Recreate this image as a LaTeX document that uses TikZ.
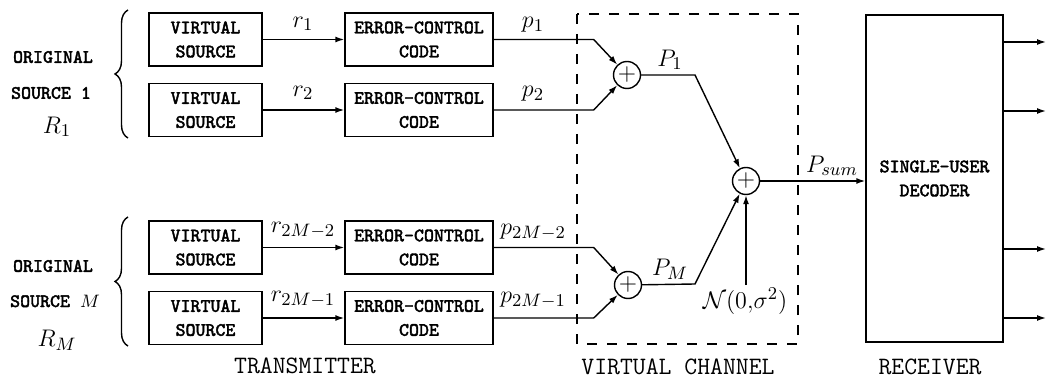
\documentclass[tikz,border=0pt]{standalone}
\usepackage{fontspec}
\newfontfamily\bftt{Latin Modern Mono}[FakeBold=2]
\usetikzlibrary{arrows.meta,decorations.pathreplacing}
\begin{document}
\begin{tikzpicture}[x=0.5pt, y=-0.5pt, line width=0.7pt, >={Latex[length=4.5pt,width=3pt]},
		blk/.style={draw, align=center, inner sep=0pt, font=\bftt\fontsize{9.5}{12}\selectfont},
		vsrc/.style={blk, minimum width=56.5pt, minimum height=26.5pt},
		ecc/.style={blk, minimum width=74pt, minimum height=26.5pt},
		adder/.style={circle, draw, inner sep=0pt, minimum size=13.5pt, font=\large},
		lab/.style={inner sep=1pt, font=\fontsize{12.5}{14}\selectfont},
		side/.style={align=center, inner sep=1pt, font=\bftt\fontsize{9.5}{12}\selectfont},
		part/.style={inner sep=1pt, font=\ttfamily\fontsize{12.5}{14}\selectfont}]
			\useasboundingbox (0,0) rectangle (1047,389);

			% transmitter
			\node[vsrc] (vs1) at (205.5, 39.5) {VIRTUAL\\SOURCE};
			\node[vsrc] (vs2) at (205.5, 110) {VIRTUAL\\SOURCE};
			\node[vsrc] (vs3) at (205.5, 247.5) {VIRTUAL\\SOURCE};
			\node[vsrc] (vs4) at (205.5, 318) {VIRTUAL\\SOURCE};
			\node[ecc] (ec1) at (419, 39.5) {ERROR-CONTROL\\CODE};
			\node[ecc] (ec2) at (419, 110) {ERROR-CONTROL\\CODE};
			\node[ecc] (ec3) at (419, 247.5) {ERROR-CONTROL\\CODE};
			\node[ecc] (ec4) at (419, 318) {ERROR-CONTROL\\CODE};

			\draw[->] (vs1) -- (ec1);
			\draw[->] (vs2) -- (ec2);
			\draw[->] (vs3) -- (ec3);
			\draw[->] (vs4) -- (ec4);
			\node[lab] (r1) at (303, 24) {$r_1$};
			\node[lab] (r2) at (303, 93) {$r_2$};
			\node[lab] (r3) at (303, 230) {$r_{2M-2}$};
			\node[lab] (r4) at (303, 299) {$r_{2M-1}$};

			\node[side] (org1) at (53, 57) {ORIGINAL};
			\node[side] (src1) at (51, 93) {SOURCE 1};
			\node[lab, font=\fontsize{13}{15}\selectfont] (rate1) at (57, 127) {$R_1$};
			\node[side] (org2) at (53, 266) {ORIGINAL};
			\node[side] (src2) at (55, 301) {SOURCE $M$};
			\node[lab, font=\fontsize{13}{15}\selectfont] (rate2) at (57, 340) {$R_M$};
			\draw[decorate, decoration={brace, amplitude=6.5pt}] (128, 138) -- (128, 10);
			\draw[decorate, decoration={brace, amplitude=6.5pt}] (128, 346) -- (128, 217);

			% virtual channel
			\draw[dash pattern=on 5pt off 5pt] (577, 14) rectangle (798, 344);
			\node[adder] (add1) at (627, 75) {$+$};
			\node[adder] (add2) at (628, 285) {$+$};
			\node[adder] (sum) at (746, 181) {$+$};

			\draw[->] (ec1.east) -- ++(100, 0) -- (add1);
			\draw[->] (ec2.east) -- ++(100, 0) -- (add1);
			\draw[->] (ec3.east) -- ++(100, 0) -- (add2);
			\draw[->] (ec4.east) -- ++(100, 0) -- (add2);
			\node[lab] (p1) at (533, 25) {$p_1$};
			\node[lab] (p2) at (533, 94) {$p_2$};
			\node[lab] (p3) at (533, 232) {$p_{2M-2}$};
			\node[lab] (p4) at (533, 300) {$p_{2M-1}$};

			\draw[->] (add1) -- (695, 75) -- (sum);
			\draw[->] (add2) -- (695, 284) -- (sum);
			\node[lab] (pw1) at (670, 60) {$P_1$};
			\node[lab] (pw2) at (670, 269) {$P_M$};

			\node[lab] (noise) at (745, 301) {$\mathcal{N}(0{,}\sigma^2)$};
			\draw[->] (noise.north -| sum) -- (sum);

			% receiver
			\node[blk, minimum width=68.5pt, minimum height=163.5pt] (dec) at (934.5, 178.5) {SINGLE-USER\\DECODER};
			\draw[->] (sum) -- (sum -| dec.west);
			\node[lab] (psum) at (832, 166) {$P_{sum}$};
			\foreach \i/\y in {1/42, 2/111, 3/249, 4/318} {
				\coordinate (out\i) at (1046, \y);
				\draw[->] (dec.east |- out\i) -- (out\i);
			}

			\node[part] (tx) at (305, 366) {TRANSMITTER};
			\node[part] (vc) at (678, 367) {VIRTUAL CHANNEL};
			\node[part] (rx) at (930, 367) {RECEIVER};
		\end{tikzpicture}
\end{document}
